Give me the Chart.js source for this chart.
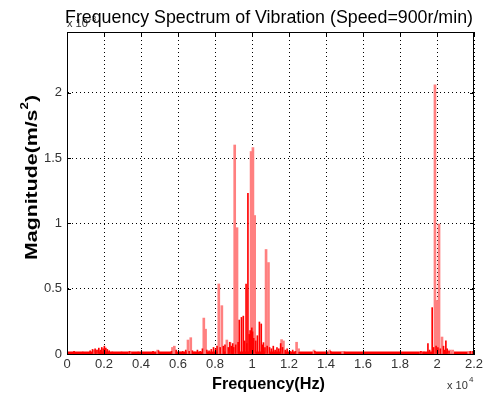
<!DOCTYPE html>
<html lang="en">
<head>
  <meta charset="UTF-8">
  <title>Frequency Spectrum of Vibration</title>
  <script src="https://cdn.jsdelivr.net/npm/chart.js"></script>
  <style>
    body { margin: 0; background: #fff; }
    canvas { display: block; }
  </style>
</head>
<body>
  <canvas id="spectrum" width="491" height="394"></canvas>

  <script>
    // Frequencies in Hz, magnitudes in units of 10^-3 m/s^2
    const peakFreq = [1450, 1650, 3400, 4900, 5700, 5800, 6540, 6690, 7395, 7490,
      8205, 8370, 8640, 8820, 9065, 9190, 9950, 10050, 10145, 10760,
      10890, 11600, 11700, 12410, 12520, 13350, 14200, 14900, 19130, 19890,
      20000, 20110, 20270, 20600, 20720, 20850, 21700, 21850];
    const peakMag = [0.03, 0.03, 0.02, 0.03, 0.05, 0.06, 0.107, 0.125, 0.275, 0.19,
      0.536, 0.37, 0.107, 0.087, 1.60, 0.967, 1.55, 1.58, 1.06, 0.80,
      0.70, 0.11, 0.10, 0.09, 0.04, 0.03, 0.03, 0.02, 0.02, 2.06,
      0.41, 0.995, 0.13, 0.03, 0.03, 0.03, 0.02, 0.02];

    const noiseFreq = [150, 380, 600, 850, 1050, 1250, 1380, 1520, 1620, 1720,
      1800, 1880, 1960, 2020, 2100, 2180, 2280, 2450, 2700, 2950,
      3200, 3380, 3600, 3850, 4100, 4400, 4650, 4950, 5200, 5450,
      5650, 5900, 6100, 6250, 6420, 6600, 6780, 6900, 7050, 7200,
      7320, 7560, 7680, 7800, 7920, 8030, 8110, 8280, 8450, 8540,
      8720, 8800, 8880, 8960, 9010, 9120, 9250, 9310, 9430, 9530,
      9600, 9680, 9720, 9780, 9850, 9900, 9940, 9990, 10030, 10090,
      10200, 10290, 10400, 10500, 10560, 10620, 10700, 10820, 10950, 11050,
      11150, 11250, 11350, 11450, 11550, 11650, 11800, 11900, 12050, 12200,
      12350, 12550, 12800, 13100, 13400, 13700, 14250, 14600, 15000, 15600,
      16300, 17000, 17800, 18500, 19000, 19130, 19300, 19510, 19600, 19740,
      19820, 19950, 20050, 20180, 20350, 20420, 20480, 20550, 20650, 21000,
      21300, 21600, 21800, 21950];
    const noiseMag = [0.012, 0.02, 0.01, 0.015, 0.012, 0.025, 0.035, 0.04, 0.03, 0.045,
      0.03, 0.05, 0.04, 0.06, 0.045, 0.035, 0.025, 0.015, 0.012, 0.015,
      0.01, 0.02, 0.012, 0.015, 0.01, 0.012, 0.02, 0.025, 0.012, 0.01,
      0.02, 0.03, 0.015, 0.02, 0.03, 0.02, 0.025, 0.015, 0.03, 0.02,
      0.04, 0.03, 0.025, 0.035, 0.05, 0.04, 0.06, 0.05, 0.06, 0.07,
      0.05, 0.09, 0.06, 0.08, 0.05, 0.07, 0.09, 0.26, 0.28, 0.29,
      0.1, 0.536, 0.08, 1.23, 0.15, 0.18, 0.15, 0.2, 0.17, 0.12,
      0.1, 0.14, 0.245, 0.23, 0.07, 0.087, 0.05, 0.06, 0.05, 0.04,
      0.06, 0.03, 0.05, 0.04, 0.08, 0.05, 0.03, 0.04, 0.02, 0.03,
      0.02, 0.015, 0.01, 0.012, 0.02, 0.008, 0.02, 0.01, 0.015, 0.006,
      0.005, 0.005, 0.006, 0.006, 0.01, 0.02, 0.015, 0.08, 0.03, 0.355,
      0.05, 0.06, 0.05, 0.04, 0.06, 0.03, 0.1, 0.04, 0.02, 0.01,
      0.008, 0.01, 0.02, 0.02];

    // noise floor along the whole band
    const floorFreq = [0, 22000];
    const floorMag = [0.012, 0.012];

    const xTickValues = [0, 2000, 4000, 6000, 8000, 10000, 12000, 14000, 16000, 18000, 20000, 22000];
    const xTickLabels = ['0', '0.2', '0.4', '0.6', '0.8', '1', '1.2', '1.4', '1.6', '1.8', '2', '2.2'];
    const yTickValues = [0, 0.5, 1, 1.5, 2];
    const yTickLabels = ['0', '0.5', '1', '1.5', '2'];

    const FONT = '"Liberation Sans", Arial, Helvetica, sans-serif';

    const toPoints = (xs, ys) => xs.map((x, i) => ({ x: x, y: ys[i] }));

    // draw text squeezed/stretched to a given width
    function fitText(ctx, text, x, y, width) {
      const w = ctx.measureText(text).width;
      ctx.save();
      ctx.translate(x, y);
      ctx.scale(width / w, 1);
      ctx.textAlign = 'left';
      ctx.fillText(text, 0, 0);
      ctx.restore();
    }

    // frame, inward ticks, title, axis labels and exponents
    const matlabFrame = {
      id: 'matlabFrame',
      afterDraw(chart) {
        const { ctx, chartArea: a, scales } = chart;
        ctx.save();
        ctx.strokeStyle = '#000';
        ctx.lineWidth = 1;
        ctx.strokeRect(a.left + 0.5, a.top + 0.5, a.right - a.left - 1, a.bottom - a.top);

        ctx.beginPath();
        xTickValues.forEach(v => {
          const px = Math.round(scales.x.getPixelForValue(v)) + 0.5;
          ctx.moveTo(px, a.bottom); ctx.lineTo(px, a.bottom - 4);
          ctx.moveTo(px, a.top); ctx.lineTo(px, a.top + 4);
        });
        yTickValues.forEach(v => {
          const py = Math.round(scales.y.getPixelForValue(v)) + 0.5;
          ctx.moveTo(a.left, py); ctx.lineTo(a.left + 4, py);
          ctx.moveTo(a.right, py); ctx.lineTo(a.right - 4, py);
        });
        ctx.stroke();

        ctx.fillStyle = '#333';
        ctx.textBaseline = 'alphabetic';
        // exponent labels
        ctx.font = '11px ' + FONT;
        ctx.fillText('x 10', 67, 27);
        ctx.font = '8px ' + FONT;
        ctx.fillText('-3', 89, 21);
        ctx.font = '11px ' + FONT;
        ctx.fillText('x 10', 447, 389);
        ctx.font = '8px ' + FONT;
        ctx.fillText('4', 469, 382);

        // title
        ctx.fillStyle = '#000';
        ctx.font = '19px ' + FONT;
        fitText(ctx, 'Frequency Spectrum of Vibration (Speed=900r/min)', 65, 23, 408);

        // x axis label
        ctx.font = 'bold 17px ' + FONT;
        fitText(ctx, 'Frequency(Hz)', 212, 389, 113);

        // y axis label, rotated, with superscript
        ctx.translate(37, 260);
        ctx.rotate(-Math.PI / 2);
        const main = 'Magnitude(m/s';
        ctx.font = 'bold 10px ' + FONT;
        const supW = ctx.measureText('2').width;
        ctx.font = 'bold 16px ' + FONT;
        const totalW = ctx.measureText(main).width + supW + ctx.measureText(')').width;
        ctx.scale(165 / totalW, 1);
        ctx.fillText(main, 0, 0);
        let px = ctx.measureText(main).width;
        ctx.font = 'bold 10px ' + FONT;
        ctx.fillText('2', px, -9);
        px += supW;
        ctx.font = 'bold 16px ' + FONT;
        ctx.fillText(')', px, 0);
        ctx.restore();
      }
    };

    const ctx = document.getElementById('spectrum').getContext('2d');
    new Chart(ctx, {
      type: 'bar',
      data: {
        datasets: [
          {
            label: 'noise',
            data: toPoints(noiseFreq, noiseMag),
            backgroundColor: '#ff0000',
            barThickness: 1,
            grouped: false
          },
          {
            label: 'peaks',
            data: toPoints(peakFreq, peakMag),
            backgroundColor: '#ff8080',
            barThickness: 2,
            grouped: false
          },
          {
            type: 'line',
            label: 'floor',
            data: toPoints(floorFreq, floorMag),
            borderColor: '#ff0000',
            backgroundColor: '#ff0000',
            borderWidth: 2,
            pointRadius: 0,
            fill: 'origin'
          }
        ]
      },
      options: {
        responsive: false,
        animation: false,
        devicePixelRatio: 1,
        layout: { padding: { top: 32, right: 17, left: 0, bottom: 0 } },
        plugins: {
          legend: { display: false },
          tooltip: { enabled: false },
          title: { display: false }
        },
        scales: {
          x: {
            type: 'linear',
            min: 0,
            max: 22000,
            offset: false,
            afterFit: s => { s.height = 40; },
            afterBuildTicks: s => { s.ticks = xTickValues.map(v => ({ value: v })); },
            ticks: {
              callback: (v, i) => xTickLabels[i],
              font: { family: FONT, size: 13 },
              color: '#333',
              padding: 3,
              maxRotation: 0,
              autoSkip: false
            },
            grid: { color: '#000', drawTicks: false, tickLength: 0, offset: false },
            border: { display: true, color: '#000', dash: [1, 3] }
          },
          y: {
            type: 'linear',
            min: 0,
            max: 2.465,
            afterFit: s => { s.width = 67; },
            afterBuildTicks: s => { s.ticks = yTickValues.map(v => ({ value: v })); },
            ticks: {
              callback: (v, i) => yTickLabels[i],
              font: { family: FONT, size: 13 },
              color: '#333',
              padding: 5
            },
            grid: { color: '#000', drawTicks: false, tickLength: 0 },
            border: { display: true, color: '#000', dash: [1, 3] }
          }
        }
      },
      plugins: [matlabFrame]
    });
  </script>
</body>
</html>
